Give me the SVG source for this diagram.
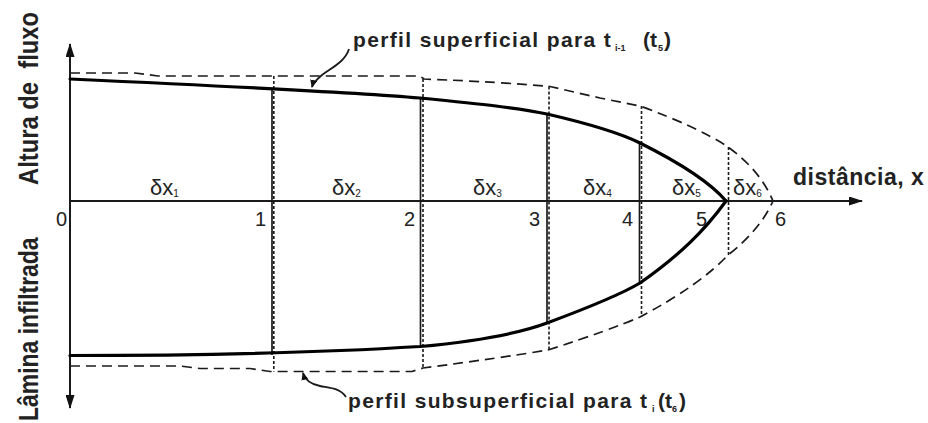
<svg xmlns="http://www.w3.org/2000/svg" width="928" height="423" viewBox="0 0 928 423">
<style>
.ax{stroke:#1a1a1a;stroke-width:2;fill:none}
.sol{stroke:#000;stroke-width:3.2;fill:none;stroke-linecap:round}
.dsh{stroke:#1a1a1a;stroke-width:1.7;fill:none;stroke-dasharray:10 6}
.vs{stroke:#1a1a1a;stroke-width:1.7;fill:none}
.vd{stroke:#1a1a1a;stroke-width:1.6;fill:none;stroke-dasharray:3 2}
.call{stroke:#1a1a1a;stroke-width:1.8;fill:none}
.num{font-family:"Liberation Sans",Arial,sans-serif;font-size:20px;fill:#222}
.dx{font-family:"Liberation Sans",Arial,sans-serif;font-size:22px;fill:#222}
.sub{font-family:"Liberation Sans",Arial,sans-serif;font-size:10px;fill:#222}
.bl{font-family:"Liberation Sans",Arial,sans-serif;font-weight:bold;fill:#222}
.bsub{font-family:"Liberation Sans",Arial,sans-serif;font-weight:bold;font-size:9px;fill:#222}
</style>
<defs>
<marker id="ah" markerUnits="userSpaceOnUse" viewBox="0 0 14 9" refX="13" refY="4.5" markerWidth="14" markerHeight="9" orient="auto">
<path d="M0,0 L14,4.5 L0,9 z" fill="#111"/>
</marker>
<marker id="sh" markerUnits="userSpaceOnUse" viewBox="0 0 8 7" refX="7" refY="3.5" markerWidth="8" markerHeight="7" orient="auto">
<path d="M0,0 L8,3.5 L0,7 z" fill="#111"/>
</marker>
</defs>

<g id="axes">
<line class="ax" x1="70" y1="201" x2="862" y2="201" marker-end="url(#ah)"/>
<line class="ax" x1="70" y1="201" x2="70" y2="44" marker-end="url(#ah)"/>
<line class="ax" x1="70" y1="201" x2="70" y2="408" marker-end="url(#ah)"/>
</g>

<g id="verticals">
<line class="vs" x1="272" y1="89" x2="272" y2="355"/>
<line class="vs" x1="420.5" y1="98" x2="420.5" y2="346.5"/>
<line class="vs" x1="547" y1="114" x2="547" y2="323"/>
<line class="vs" x1="639.5" y1="143" x2="639.5" y2="283"/>
<line class="vd" x1="273.8" y1="76" x2="273.8" y2="371.5"/>
<line class="vd" x1="423" y1="79" x2="423" y2="368"/>
<line class="vd" x1="549" y1="86.5" x2="549" y2="350"/>
<line class="vd" x1="641.5" y1="106" x2="641.5" y2="317"/>
<line class="vd" x1="728.5" y1="147" x2="728.5" y2="255"/>
</g>

<g id="profiles">
<path class="sol" d="M70,79 C180,84 350,92 420,98 C480,104 520,108 547,114 C590,124 620,133 640,143 C680,163 710,182 726,201"/>
<path class="sol" d="M70,355.5 C200,355.5 330,352 420,346.5 C480,341 520,333 547,323 C590,307 620,295 640,283 C680,255 705,230 726,201"/>
<path class="dsh" d="M70,73 L135,73 L158,76 L420,76 L424,79 Q500,82 550,86.5 L600,98 L640,106 Q700,128 728,147 Q760,170 773,201"/>
<path class="dsh" d="M70,366 L180,366 L200,368.5 L250,368.5 L270,371.5 L412,371.5 L423,368 Q500,358 548,350 Q610,330 640,317 Q700,285 728,255 Q760,230 773,201"/>
</g>

<g id="connectors">
<path class="call" d="M349,49 C345,62 331,68 322,75 C316,80 313,83 312,87" marker-end="url(#sh)"/>
<path class="call" d="M346,397 C340,388 330,388 320,386 C310,384 305,380 303,373" marker-end="url(#sh)"/>
</g>

<g id="axis-labels">
<text class="bl" font-size="28" xml:space="preserve" transform="translate(38,185) rotate(-90) scale(0.85,1)">Altura de  fluxo</text>
<text class="bl" font-size="28" transform="translate(38,421) rotate(-90) scale(0.82,1)">Lâmina infiltrada</text>
<text class="bl" font-size="23" x="793" y="185" letter-spacing="0.5">distância, x</text>
</g>

<g id="numbers">
<text class="num" x="67" y="226" text-anchor="end">0</text>
<text class="num" x="266" y="226" text-anchor="end">1</text>
<text class="num" x="415" y="226" text-anchor="end">2</text>
<text class="num" x="540" y="226" text-anchor="end">3</text>
<text class="num" x="633" y="226" text-anchor="end">4</text>
<text class="num" x="707" y="226" text-anchor="end">5</text>
<text class="num" x="775" y="226">6</text>
</g>

<g id="dx-labels">
<text class="dx" x="150" y="195">δx<tspan class="sub" dy="2">1</tspan></text>
<text class="dx" x="332" y="195">δx<tspan class="sub" dy="2">2</tspan></text>
<text class="dx" x="473" y="195">δx<tspan class="sub" dy="2">3</tspan></text>
<text class="dx" x="583" y="195">δx<tspan class="sub" dy="2">4</tspan></text>
<text class="dx" x="672" y="195">δx<tspan class="sub" dy="2">5</tspan></text>
<text class="dx" x="733" y="195">δx<tspan class="sub" dy="2">6</tspan></text>
</g>

<g id="label-surface">
<text class="bl" font-size="21" x="353" y="47" letter-spacing="1.35">perfil superficial para t</text>
<text class="bsub" x="615" y="51">i-1</text>
<text class="bl" font-size="21" x="643" y="47">(t</text>
<text class="bsub" x="658" y="51">5</text>
<text class="bl" font-size="21" x="664" y="47">)</text>
</g>

<g id="label-subsurface">
<text class="bl" font-size="21" x="348" y="408" letter-spacing="1.35">perfil subsuperficial para t</text>
<text class="bsub" x="652" y="412">i</text>
<text class="bl" font-size="21" x="658" y="408">(t</text>
<text class="bsub" x="672" y="412">6</text>
<text class="bl" font-size="21" x="679" y="408">)</text>
</g>
</svg>
